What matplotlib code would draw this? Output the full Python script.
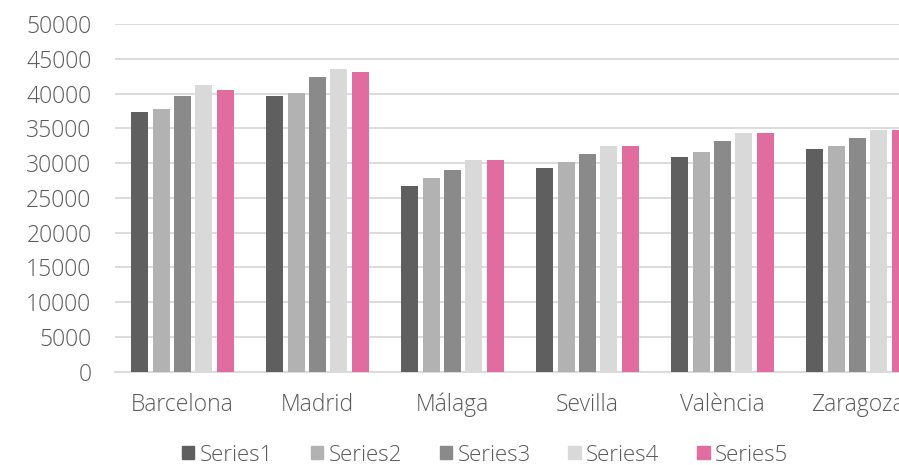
import numpy as np
import matplotlib
matplotlib.use("Agg")
import matplotlib.pyplot as plt
from matplotlib.patches import Patch

cities = ["Barcelona", "Madrid", "Málaga", "Sevilla", "València", "Zaragoza"]
series_names = ["Series1", "Series2", "Series3", "Series4", "Series5"]

series1 = [37400, 39700, 26700, 29350, 30900, 32050]
series2 = [37800, 40100, 27850, 30150, 31650, 32450]
series3 = [39700, 42400, 29000, 31300, 33200, 33600]
series4 = [41250, 43550, 30500, 32450, 34350, 34750]
series5 = [40500, 43150, 30500, 32450, 34350, 34750]

colors = ["#5f5f5f", "#b2b2b2", "#8a8a8a", "#d9d9d9", "#e16c9f"]
text_color = "#595959"

plt.rcParams["font.family"] = ["Open Sans", "DejaVu Sans"]
plt.rcParams["font.weight"] = 300

fig = plt.figure(figsize=(8.99, 4.65), dpi=100)
# axes runs past the right edge, like the cropped original
ax = fig.add_axes([115 / 899, 1 - 371.7 / 465, 810 / 899, (371.7 - 24) / 465])

x = np.arange(len(cities))
stride = 0.158
width = 0.125
all_series = [series1, series2, series3, series4, series5]
for i, vals in enumerate(all_series):
    offset = (i - 2) * stride
    ax.bar(x + offset, vals, width=width, color=colors[i], zorder=3)

ax.set_xlim(-0.5, len(cities) - 0.5)
ax.set_ylim(0, 50000)
ax.set_yticks(np.arange(0, 50001, 5000))
ax.set_xticks(x)
ax.set_xticklabels(cities)

ax.grid(axis="y", color="#d9d9d9", linewidth=1.3, zorder=0)
for side in ["top", "right", "left"]:
    ax.spines[side].set_visible(False)
ax.spines["bottom"].set_color("#d9d9d9")
ax.spines["bottom"].set_linewidth(1.3)

ax.tick_params(axis="y", length=0, pad=17, labelsize=16.5, labelcolor=text_color)
ax.tick_params(axis="x", length=0, pad=15, labelsize=16.5, labelcolor=text_color)

handles = [Patch(color=c, label=n) for c, n in zip(colors, series_names)]
fig.legend(handles=handles, loc="center", bbox_to_anchor=(485 / 899, 1 - 455 / 465),
           ncol=5, frameon=False, fontsize=16, labelcolor=text_color,
           handlelength=0.55, handleheight=0.55, handletextpad=0.25, columnspacing=1.7)

fig.savefig("out.png", dpi=100)
